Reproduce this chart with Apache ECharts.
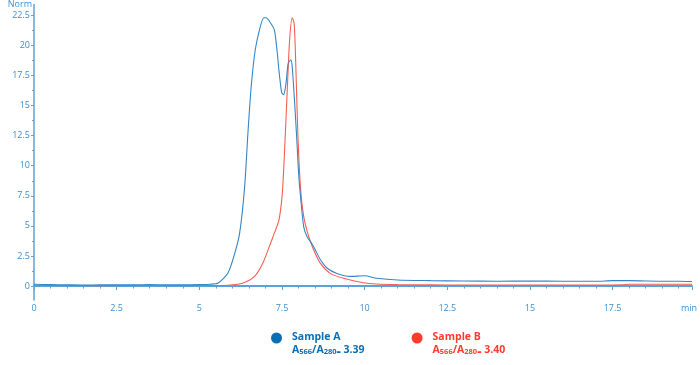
<!DOCTYPE html>
<html><head><meta charset="utf-8">
<script src="https://cdn.jsdelivr.net/npm/echarts@6/dist/echarts.min.js"></script>
<style>html,body{margin:0;padding:0;background:#fff}#c{width:700px;height:365px}</style>
</head><body><div id="c"></div>
<script>
const seriesNames = ['Sample A', 'Sample B'];
const ratioLabels = ['3.39', '3.40'];
const xUnit = 'min';
const xMax = 19.9;
const yTicks = [0, 2.5, 5, 7.5, 10, 12.5, 15, 17.5, 20, 22.5];
const yMinorTicks = [1.25, 3.75, 6.25, 8.75, 11.25, 13.75, 16.25, 18.75, 21.25];
const timeA = [0,0.5,1,1.5,2,2.5,3,3.5,4,4.5,5,5.33,5.57,5.87,6.07,6.22,6.37,6.47,6.57,6.69,6.82,6.95,7.02,7.17,7.27,7.35,7.41,7.49,7.55,7.62,7.69,7.77,7.81,7.88,7.95,8.01,8.08,8.16,8.26,8.41,8.51,8.66,8.86,9.16,9.56,10.0,10.36,11,12,13,14,15,16,17,17.5,18,18.5,19,19.5,19.9];
const valueA = [0.15,0.12,0.1,0.08,0.1,0.1,0.1,0.12,0.1,0.1,0.12,0.15,0.25,1.1,2.7,4.4,8.2,12.7,16.6,19.6,21.3,22.3,22.3,21.8,21.3,19.6,17.9,16.1,15.9,16.8,18.5,18.8,18.2,15.4,12.1,9.1,6.9,4.9,4.1,3.5,3.0,2.2,1.5,1.05,0.8,0.85,0.65,0.5,0.45,0.42,0.4,0.42,0.4,0.4,0.45,0.45,0.42,0.4,0.4,0.38];
const timeB = [0,1,2,3,4,5,5.5,5.87,6.37,6.67,6.92,7.12,7.27,7.41,7.51,7.58,7.66,7.73,7.81,7.87,7.92,7.98,8.06,8.16,8.31,8.46,8.66,8.96,9.36,9.96,10.36,11,12,13,14,15,16,17,17.8,18,19,19.9];
const valueB = [0.05,0.05,0.03,0.05,0.05,0.05,0.05,0.07,0.3,0.8,1.9,3.3,4.4,5.5,7.7,11.3,16.3,20.4,22.3,21.8,18.2,12.7,8.2,5.75,4.1,3.0,1.9,1.05,0.64,0.27,0.17,0.12,0.1,0.08,0.08,0.08,0.08,0.08,0.1,0.15,0.15,0.15];

const axisColor = '#5aa3da';
const labelColor = '#3d8fd0';
const lineA = '#3585c4', lineB = '#f45f52';
const dotA = '#0b6db4', dotB = '#ff3b2c';
const font = 'Open Sans';

const zip = (t, v) => t.map((x, i) => [x, v[i]]);

function richSet(c) {
  return {
    t: {color: c, fontSize: 10.5, fontWeight: 'bold', fontFamily: font, lineHeight: 13},
    b: {color: c, fontSize: 10.5, fontWeight: 'bold', fontFamily: font, lineHeight: 13},
    s: {color: c, fontSize: 7.5, fontWeight: 'bold', fontFamily: font, lineHeight: 13, padding: [2, 0, 0, 0]}
  };
}
const rA = richSet(dotA), rB = richSet(dotB);

const chart = echarts.init(document.getElementById('c'), null, {renderer: 'canvas'});
chart.setOption({
  animation: false,
  textStyle: {fontFamily: font},
  grid: {left: 34, right: 3, top: 4, bottom: 65, containLabel: false},
  xAxis: {
    type: 'value', min: 0, max: xMax, interval: 2.5,
    axisLine: {lineStyle: {color: axisColor, width: 2}},
    axisTick: {show: true, length: 4, lineStyle: {color: axisColor}},
    minorTick: {show: true, splitNumber: 5, length: 2.5, lineStyle: {color: axisColor}},
    axisLabel: {
      color: labelColor, fontSize: 9, margin: 4, showMaxLabel: true,
      formatter: function (v) { return v >= xMax - 1e-9 ? '{u|' + xUnit + '}' : String(v); },
      rich: {u: {color: labelColor, fontSize: 9, fontFamily: font, padding: [0, 6, 0, 0]}}
    },
    splitLine: {show: false}
  },
  yAxis: [{
    type: 'value', min: -1.16, max: 23.4,
    name: 'Norm', nameLocation: 'end', nameGap: 0,
    nameTextStyle: {color: labelColor, fontSize: 9, align: 'right', verticalAlign: 'middle', padding: [0, 2, 0, 0]},
    axisLine: {show: true, lineStyle: {color: axisColor, width: 1.5}},
    axisTick: {show: true, length: 3, customValues: yTicks, lineStyle: {color: axisColor}},
    axisLabel: {color: labelColor, fontSize: 9, margin: 4, customValues: yTicks},
    splitLine: {show: false}
  }, {
    type: 'value', min: -1.16, max: 23.4, position: 'left',
    axisLine: {show: false},
    axisTick: {show: true, length: 2, customValues: yMinorTicks, lineStyle: {color: axisColor}},
    axisLabel: {show: false, customValues: yMinorTicks},
    splitLine: {show: false}
  }],
  legend: {
    left: 271, top: 332, padding: 0, itemGap: 47,
    itemWidth: 11, itemHeight: 11, icon: 'circle',
    data: [
      {name: seriesNames[0], itemStyle: {color: dotA}},
      {name: seriesNames[1], itemStyle: {color: dotB}}
    ],
    formatter: function (name) {
      const k = name === seriesNames[0] ? 'a' : 'b';
      const r = name === seriesNames[0] ? ratioLabels[0] : ratioLabels[1];
      return '{' + k + 't|' + name + '}\n{' + k + 'b|A}{' + k + 's|566}{' + k + 'b|/A}{' + k + 's|280}{' + k + 's|=}{' + k + 'b| ' + r + '}';
    },
    textStyle: {
      padding: [12, 0, 0, 5],
      rich: {
        at: rA.t, ab: rA.b, as: rA.s,
        bt: rB.t, bb: rB.b, bs: rB.s
      }
    }
  },
  series: [
    {name: seriesNames[0], type: 'line', data: zip(timeA, valueA), smooth: 0.25, showSymbol: false,
     itemStyle: {color: dotA}, lineStyle: {color: lineA, width: 1.1}, z: 3},
    {name: seriesNames[1], type: 'line', data: zip(timeB, valueB), smooth: 0.25, showSymbol: false,
     itemStyle: {color: dotB}, lineStyle: {color: lineB, width: 1.1}, z: 2}
  ]
});
</script></body></html>
